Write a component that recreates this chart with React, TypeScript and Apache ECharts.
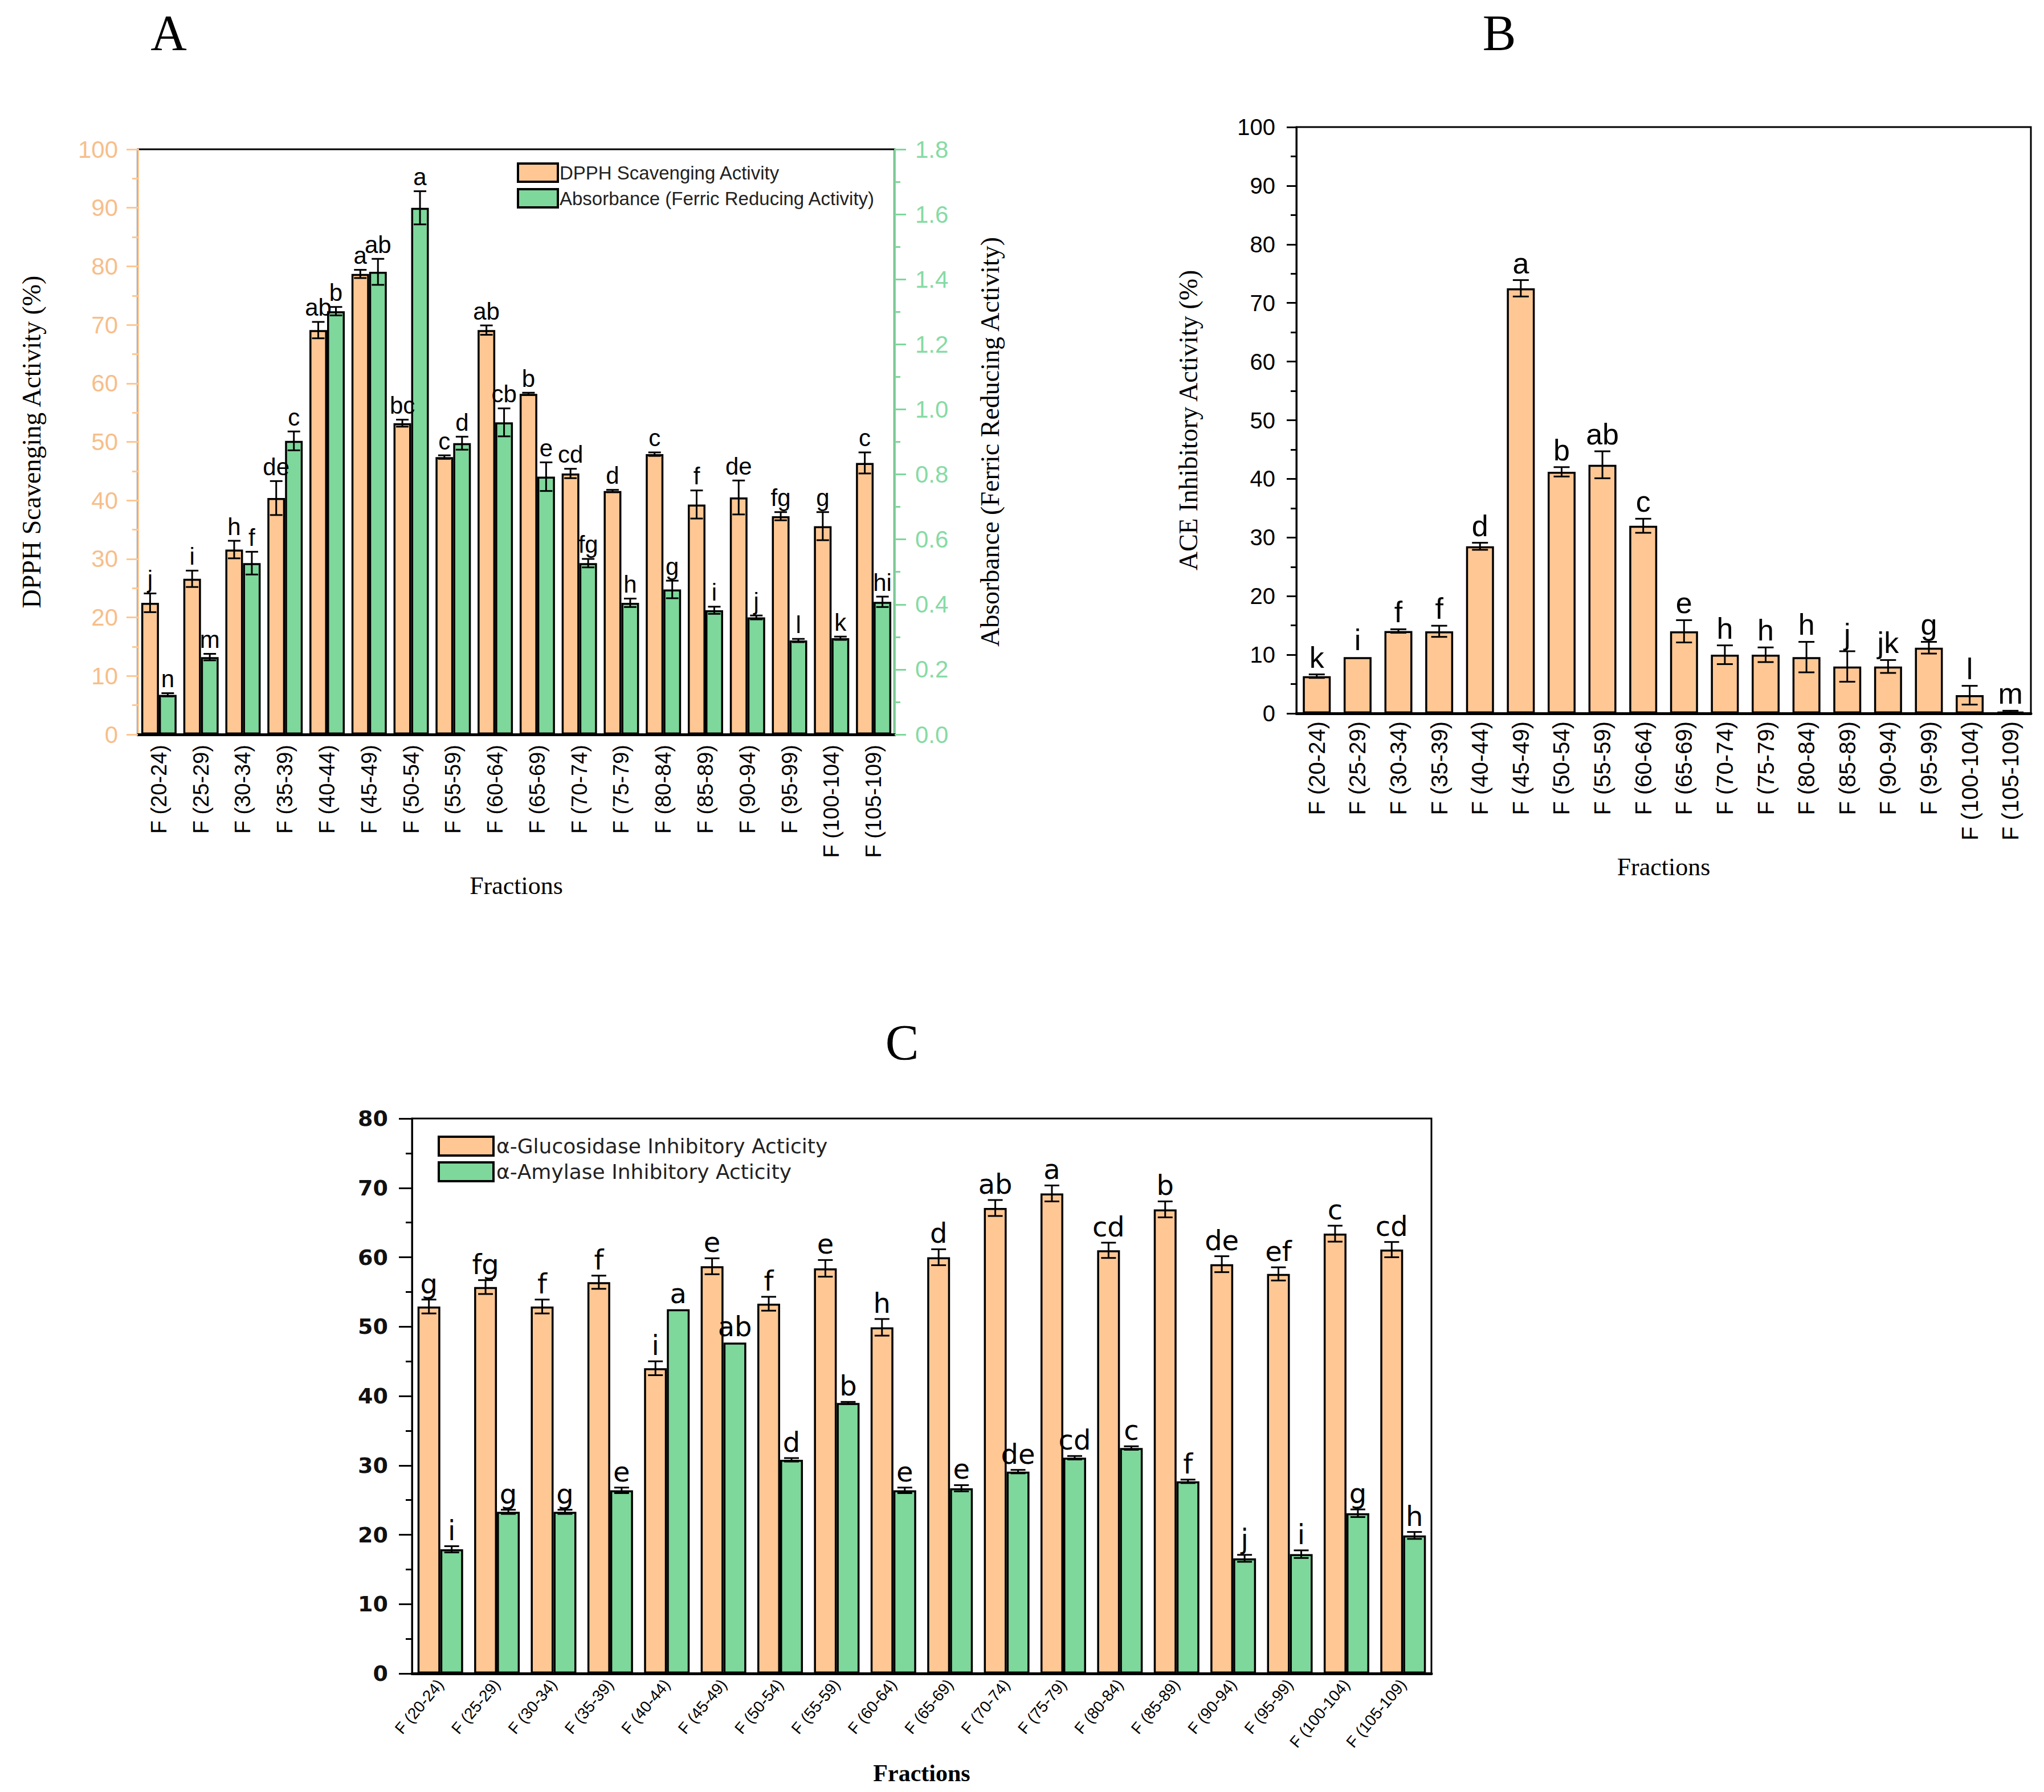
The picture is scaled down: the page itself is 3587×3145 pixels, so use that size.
import React, { useEffect, useRef } from "react";
import * as echarts from "echarts";

const categories = [
  "F (20-24)", "F (25-29)", "F (30-34)", "F (35-39)", "F (40-44)", "F (45-49)",
  "F (50-54)", "F (55-59)", "F (60-64)", "F (65-69)", "F (70-74)", "F (75-79)",
  "F (80-84)", "F (85-89)", "F (90-94)", "F (95-99)", "F (100-104)", "F (105-109)",
];

// Panel A
const dpph = [22.5, 26.6, 31.6, 40.4, 69.1, 78.7, 53.2, 47.4, 69.1, 58.2, 44.6, 41.6, 47.9, 39.3, 40.5, 37.3, 35.6, 46.4];
const dpphErr = [1.6, 1.4, 1.5, 2.9, 1.4, 0.7, 0.6, 0.3, 0.8, 0.2, 0.8, 0.2, 0.3, 2.4, 2.9, 0.7, 2.4, 1.8];
const dpphLetters = ["j", "i", "h", "de", "ab", "a", "bc", "c", "ab", "b", "cd", "d", "c", "f", "de", "fg", "g", "c"];
const frap = [0.122, 0.238, 0.527, 0.903, 1.302, 1.423, 1.62, 0.896, 0.96, 0.793, 0.527, 0.405, 0.446, 0.382, 0.36, 0.289, 0.296, 0.408];
const frapErr = [0.005, 0.01, 0.035, 0.029, 0.013, 0.04, 0.051, 0.02, 0.043, 0.044, 0.013, 0.013, 0.027, 0.011, 0.006, 0.005, 0.005, 0.016];
const frapLetters = ["n", "m", "f", "c", "b", "ab", "a", "d", "cb", "e", "fg", "h", "g", "i", "j", "l", "k", "hi"];

// Panel B
const ace = [6.35, 9.6, 14.05, 14.0, 28.5, 72.5, 41.2, 42.4, 32.0, 14.0, 10.0, 10.0, 9.6, 8.0, 8.0, 11.2, 3.1, 0.3];
const aceErr = [0.3, 0, 0.3, 0.95, 0.6, 1.4, 0.8, 2.3, 1.2, 1.9, 1.6, 1.25, 2.6, 2.6, 1.1, 1.0, 1.6, 0.15];
const aceLetters = ["k", "i", "f", "f", "d", "a", "b", "ab", "c", "e", "h", "h", "h", "j", "jk", "g", "l", "m"];

// Panel C
const gluc = [52.9, 55.7, 52.9, 56.4, 44.0, 58.7, 53.3, 58.4, 49.9, 60.0, 67.1, 69.2, 61.0, 66.9, 59.0, 57.6, 63.4, 61.1];
const glucErr = [1.0, 1.0, 1.0, 0.95, 1.0, 1.15, 1.0, 1.2, 1.2, 1.15, 1.15, 1.15, 1.1, 1.15, 1.15, 0.95, 1.15, 1.1];
const glucLetters = ["g", "fg", "f", "f", "i", "e", "f", "e", "h", "d", "ab", "a", "cd", "b", "de", "ef", "c", "cd"];
const amyl = [17.9, 23.3, 23.3, 26.4, 52.5, 47.7, 30.8, 39.0, 26.4, 26.7, 29.1, 31.1, 32.5, 27.7, 16.6, 17.2, 23.1, 19.9];
const amylErr = [0.45, 0.3, 0.3, 0.4, 0, 0, 0.25, 0.15, 0.4, 0.45, 0.25, 0.25, 0.25, 0.25, 0.5, 0.55, 0.55, 0.5];
const amylLetters = ["i", "g", "g", "e", "a", "ab", "d", "b", "e", "e", "de", "cd", "c", "f", "j", "i", "g", "h"];

const ORANGE = "#FEC794";
const GREEN = "#7ED79B";
const SANS = "'Liberation Sans', Arial, sans-serif";
const SERIF = "'Liberation Serif', 'Times New Roman', serif";
const WIDE = "'DejaVu Sans', Verdana, sans-serif";

function errSeries(
  name: string, xi: number, yi: number, vals: number[], errs: number[], letters: string[],
  off: number, gapFrac: number, barW: number | null, fontSize: number, fontFamily: string, cap: number
) {
  return {
    type: "custom",
    name,
    xAxisIndex: xi,
    yAxisIndex: yi,
    z: 10,
    silent: true,
    data: vals.map((v, i) => [i, v, errs[i]]),
    encode: { x: 0, y: 1 },
    renderItem: (params: any, api: any) => {
      const i = api.value(0);
      const v = api.value(1);
      const e = api.value(2);
      const band = api.size([1, 0])[0];
      const bw = barW != null ? barW : (band * (1 - gapFrac)) / 2;
      const cx = api.coord([i, v])[0] + (off * bw) / 2;
      const yHi = api.coord([i, v + e])[1];
      const yLo = api.coord([i, Math.max(0, v - e)])[1];
      const ls = { stroke: "#000", lineWidth: 3 };
      const children: any[] = [];
      if (e > 0) {
        children.push({ type: "line", shape: { x1: cx, y1: yHi, x2: cx, y2: yLo }, style: ls });
        children.push({ type: "line", shape: { x1: cx - cap, y1: yHi, x2: cx + cap, y2: yHi }, style: ls });
        children.push({ type: "line", shape: { x1: cx - cap, y1: yLo, x2: cx + cap, y2: yLo }, style: ls });
      }
      children.push({
        type: "text",
        style: {
          text: letters[i], x: cx, y: yHi - 4, align: "center", verticalAlign: "bottom",
          fontSize, fontFamily, fill: "#000",
        },
      });
      return { type: "group", children };
    },
  };
}

export default function App() {
  const ref = useRef<HTMLDivElement>(null);
  useEffect(() => {
    if (!ref.current) return;
    const chart = echarts.init(ref.current, undefined, { renderer: "svg" });
    const barBorder = { borderColor: "#000", borderWidth: 3.5 };
    const option: any = {
      animation: false,
      backgroundColor: "#fff",
      title: [
        { text: "A", left: 291, top: 8, textAlign: "center", textStyle: { fontFamily: SERIF, fontSize: 88, fontWeight: "normal", color: "#000" } },
        { text: "B", left: 2626, top: 8, textAlign: "center", textStyle: { fontFamily: SERIF, fontSize: 88, fontWeight: "normal", color: "#000" } },
        { text: "C", left: 1578, top: 1780, textAlign: "center", textStyle: { fontFamily: SERIF, fontSize: 88, fontWeight: "normal", color: "#000" } },
      ],
      legend: [
        {
          data: ["DPPH Scavenging Activity", "Absorbance (Ferric Reducing Activity)"],
          orient: "vertical", left: 902, top: 280, itemWidth: 70, itemHeight: 32, itemGap: 9,
          icon: "rect", itemStyle: { borderColor: "#000", borderWidth: 4 },
          textStyle: { fontFamily: SANS, fontSize: 33, color: "#222", padding: [0, 0, 0, -2] },
        },
        {
          data: ["α-Glucosidase Inhibitory Acticity", "α-Amylase Inhibitory Acticity"],
          orient: "vertical", left: 763, top: 1988, itemWidth: 96, itemHeight: 33, itemGap: 8,
          icon: "rect", itemStyle: { borderColor: "#000", borderWidth: 4 },
          textStyle: { fontFamily: WIDE, fontSize: 36, color: "#222" },
        },
      ],
      grid: [
        { left: 242, top: 262, width: 1328, height: 1027, show: true, borderColor: "#000", borderWidth: 3, backgroundColor: "transparent" },
        { left: 2275, top: 223, width: 1289, height: 1029, show: true, borderColor: "#000", borderWidth: 3, backgroundColor: "transparent" },
        { left: 723, top: 1963, width: 1789, height: 974, show: true, borderColor: "#000", borderWidth: 3, backgroundColor: "transparent" },
      ],
      xAxis: [
        {
          type: "category", gridIndex: 0, data: categories,
          axisLine: { lineStyle: { color: "#000", width: 5 } }, axisTick: { show: false },
          axisLabel: { rotate: 90, margin: 18, interval: 0, fontFamily: SANS, fontSize: 38, color: "#000" },
          name: "Fractions", nameLocation: "middle", nameGap: 243,
          nameTextStyle: { fontFamily: SERIF, fontSize: 44, color: "#000" },
        },
        {
          type: "category", gridIndex: 1, data: categories,
          axisLine: { lineStyle: { color: "#000", width: 5 } }, axisTick: { show: false },
          axisLabel: { rotate: 90, margin: 14, interval: 0, fontFamily: SANS, fontSize: 40, color: "#000" },
          name: "Fractions", nameLocation: "middle", nameGap: 247,
          nameTextStyle: { fontFamily: SERIF, fontSize: 44, color: "#000" },
        },
        {
          type: "category", gridIndex: 2, data: categories,
          axisLine: { lineStyle: { color: "#000", width: 5 } }, axisTick: { show: false },
          axisLabel: { rotate: 50, margin: 14, interval: 0, fontFamily: SANS, fontSize: 28, color: "#000" },
          name: "Fractions", nameLocation: "middle", nameGap: 154,
          nameTextStyle: { fontFamily: SERIF, fontSize: 42, fontWeight: "bold", color: "#000" },
        },
      ],
      yAxis: [
        {
          type: "value", gridIndex: 0, min: 0, max: 100, interval: 10, position: "left",
          axisLine: { show: true, lineStyle: { color: ORANGE, width: 3 } },
          axisTick: { show: true, inside: false, length: 20, lineStyle: { color: ORANGE, width: 3 } },
          minorTick: { show: true, splitNumber: 2, length: 10, lineStyle: { color: ORANGE, width: 3 } },
          splitLine: { show: false },
          axisLabel: { margin: 35, fontFamily: SANS, fontSize: 42, color: "#F7BE8A" },
          name: "DPPH Scavenging Activity (%)", nameLocation: "middle", nameGap: 164, nameRotate: 90,
          nameTextStyle: { fontFamily: SERIF, fontSize: 46, color: "#000" },
        },
        {
          type: "value", gridIndex: 0, min: 0, max: 1.8, interval: 0.2, position: "right",
          axisLine: { show: true, lineStyle: { color: GREEN, width: 3 } },
          axisTick: { show: true, inside: false, length: 20, lineStyle: { color: GREEN, width: 3 } },
          minorTick: { show: true, splitNumber: 2, length: 10, lineStyle: { color: GREEN, width: 3 } },
          splitLine: { show: false },
          axisLabel: { margin: 36, fontFamily: SANS, fontSize: 42, color: "#86DBA4", formatter: (v: number) => v.toFixed(1) },
          name: "Absorbance (Ferric Reducing Activity)", nameLocation: "middle", nameGap: 144, nameRotate: 90,
          nameTextStyle: { fontFamily: SERIF, fontSize: 46, color: "#000" },
        },
        {
          type: "value", gridIndex: 1, min: 0, max: 100, interval: 10,
          axisLine: { show: true, lineStyle: { color: "#000", width: 3 } },
          axisTick: { show: true, inside: false, length: 17, lineStyle: { color: "#000", width: 3 } },
          minorTick: { show: true, splitNumber: 2, length: 10, lineStyle: { color: "#000", width: 3 } },
          splitLine: { show: false },
          axisLabel: { margin: 37, fontFamily: SANS, fontSize: 40, color: "#000" },
          name: "ACE Inhibitory Activity (%)", nameLocation: "middle", nameGap: 167, nameRotate: 90,
          nameTextStyle: { fontFamily: SERIF, fontSize: 46, color: "#000" },
        },
        {
          type: "value", gridIndex: 2, min: 0, max: 80, interval: 10,
          axisLine: { show: true, lineStyle: { color: "#000", width: 3 } },
          axisTick: { show: true, inside: false, length: 23, lineStyle: { color: "#000", width: 3 } },
          minorTick: { show: true, splitNumber: 2, length: 11, lineStyle: { color: "#000", width: 3 } },
          splitLine: { show: false },
          axisLabel: { margin: 42, fontFamily: WIDE, fontSize: 38, fontWeight: "bold", color: "#111" },
        },
      ],
      series: [
        {
          type: "bar", name: "DPPH Scavenging Activity", xAxisIndex: 0, yAxisIndex: 0, data: dpph,
          barGap: "0%", barCategoryGap: "16%", itemStyle: { color: ORANGE, ...barBorder },
        },
        {
          type: "bar", name: "Absorbance (Ferric Reducing Activity)", xAxisIndex: 0, yAxisIndex: 1, data: frap,
          barGap: "0%", barCategoryGap: "16%", itemStyle: { color: GREEN, ...barBorder },
        },
        errSeries("errA1", 0, 0, dpph, dpphErr, dpphLetters, -1, 0.16, null, 42, SANS, 11),
        errSeries("errA2", 0, 1, frap, frapErr, frapLetters, 1, 0.16, null, 42, SANS, 11),
        {
          type: "bar", name: "ACE", xAxisIndex: 1, yAxisIndex: 2, data: ace,
          barWidth: 49, itemStyle: { color: ORANGE, ...barBorder },
        },
        errSeries("errB", 1, 2, ace, aceErr, aceLetters, 0, 0, 49, 52, SANS, 14),
        {
          type: "bar", name: "α-Glucosidase Inhibitory Acticity", xAxisIndex: 2, yAxisIndex: 3, data: gluc,
          barGap: "0%", barCategoryGap: "19.5%", itemStyle: { color: ORANGE, ...barBorder },
        },
        {
          type: "bar", name: "α-Amylase Inhibitory Acticity", xAxisIndex: 2, yAxisIndex: 3, data: amyl,
          barGap: "0%", barCategoryGap: "19.5%", itemStyle: { color: GREEN, ...barBorder },
        },
        errSeries("errC1", 2, 3, gluc, glucErr, glucLetters, -1, 0.195, null, 48, WIDE, 13),
        errSeries("errC2", 2, 3, amyl, amylErr, amylLetters, 1, 0.195, null, 48, WIDE, 13),
      ],
    };
    chart.setOption(option);
    return () => chart.dispose();
  }, []);
  return (
    <div
      ref={ref}
      style={{ position: "absolute", left: 0, top: 0, width: 3587, height: 3145, background: "#fff" }}
    />
  );
}
